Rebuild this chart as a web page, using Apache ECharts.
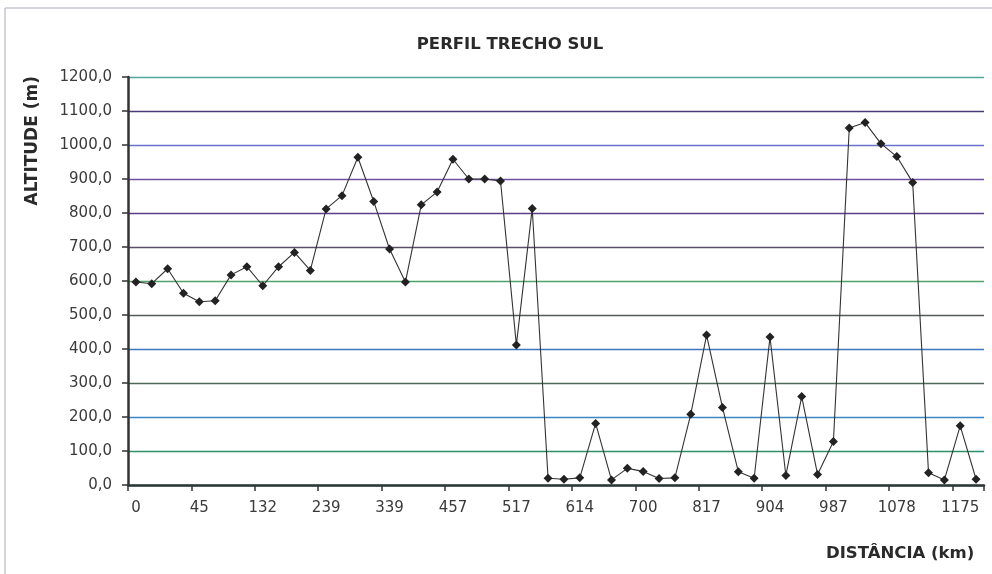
<!DOCTYPE html>
<html>
<head>
<meta charset="utf-8">
<script src="https://cdn.jsdelivr.net/npm/echarts@6/dist/echarts.min.js"></script>
<style>
html,body{margin:0;padding:0;background:#fff;}
#chart{width:992px;height:574px;}
</style>
</head>
<body>
<div id="chart"></div>
<script>
// Category labels (only every 4th distance is printed on the axis)
var categories = [
  '0','','','','45','','','','132','','','','239','','','',
  '339','','','','457','','','','517','','','','614','','','',
  '700','','','','817','','','','904','','','','987','','','',
  '1078','','','','1175',''
];
// Altitude values (m)
var altitude = [
  597, 592, 636, 564, 539, 542, 618, 642, 586, 642, 684, 631,
  812, 851, 964, 834, 694, 597, 824, 862, 958, 900, 900, 894,
  412, 813, 20, 17, 21, 181, 15, 49, 40, 19, 21, 208,
  441, 228, 39, 20, 435, 28, 260, 31, 128, 1050, 1066, 1004,
  966, 890, 36, 15, 174, 17
];
var yTicks = { min: 0, max: 1200, interval: 100 };
var titleText = 'PERFIL TRECHO SUL';
var yName = 'ALTITUDE (m)';
var xName = 'DISTÂNCIA (km)';

var gridColors = ['#333333', '#2f8f6a', '#3b86c4', '#4c6a58', '#3d76c0', '#555a5a',
                  '#4fa36a', '#5a4f66', '#5a3f8a', '#7050a0', '#6a72d0', '#4a3a7a', '#4fa898'];

var chart = echarts.init(document.getElementById('chart'), null, {renderer: 'canvas'});
chart.setOption({
  animation: false,
  backgroundColor: '#fff',
  title: {
    text: titleText,
    left: 505, top: 31, textAlign: 'center',
    textStyle: { fontFamily: 'DejaVu Sans', fontWeight: 'bold', fontSize: 16.5, color: '#2a2a2a' }
  },
  graphic: [
    { type: 'rect', shape: { x: 5, y: 8, width: 1100, height: 700 }, style: { fill: null, stroke: '#a8aab8', lineWidth: 1 }, silent: true, z: -1 },
    { type: 'text', left: 24, top: 76, rotation: Math.PI / 2,
      style: { text: yName, fontFamily: 'DejaVu Sans', fontWeight: 'bold', fontSize: 17, fill: '#2a2a2a' } },
    { type: 'text', left: 826, top: 545,
      style: { text: xName, fontFamily: 'DejaVu Sans', fontWeight: 'bold', fontSize: 16.5, fill: '#2a2a2a' } }
  ],
  grid: { left: 128, right: 8, top: 77, bottom: 89, containLabel: false },
  xAxis: {
    type: 'category',
    data: categories,
    boundaryGap: true,
    axisLine: { show: true, lineStyle: { color: '#2e3a3a', width: 2.5 } },
    axisTick: { show: true, interval: 3, length: 6, lineStyle: { color: '#333', width: 1.5 } },
    axisLabel: { interval: 3, margin: 16, fontFamily: 'DejaVu Sans', fontSize: 15, color: '#3a3a3a' },
    splitLine: { show: false }
  },
  yAxis: {
    type: 'value',
    min: yTicks.min, max: yTicks.max, interval: yTicks.interval,
    axisLine: { show: true, lineStyle: { color: '#333', width: 2.5 } },
    axisTick: { show: true, length: 6, lineStyle: { color: '#333', width: 1.5 } },
    axisLabel: {
      margin: 16, fontFamily: 'DejaVu Sans', fontSize: 15, color: '#3a3a3a',
      formatter: function (v) { return v.toFixed(1).replace('.', ','); }
    },
    splitLine: { show: true, lineStyle: { color: gridColors, width: 1.4 } }
  },
  series: [{
    type: 'line',
    data: altitude,
    symbol: 'diamond',
    symbolSize: 9,
    showSymbol: true,
    lineStyle: { color: '#333', width: 1.1 },
    itemStyle: { color: '#222' }
  }]
});
</script>
</body>
</html>
